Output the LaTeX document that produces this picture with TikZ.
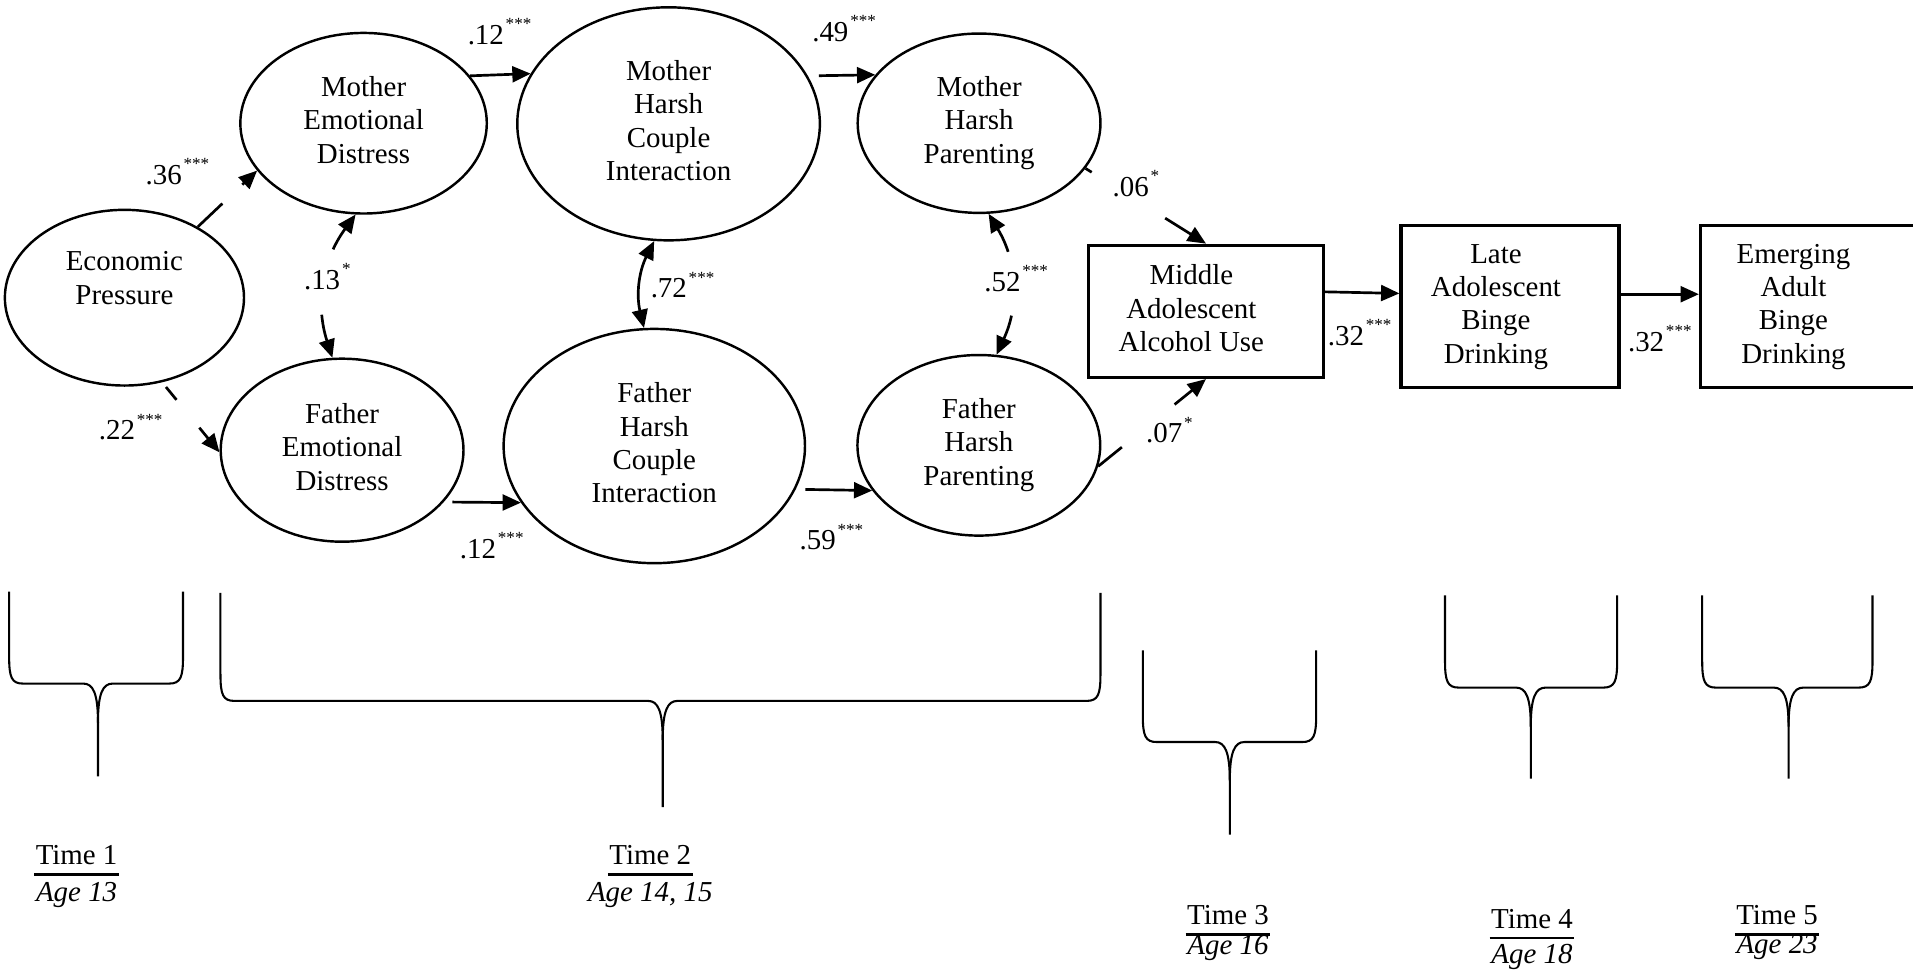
\documentclass[tikz,border=0pt]{standalone}
\usepackage{fontspec}
\setmainfont{Liberation Serif}
\usetikzlibrary{arrows.meta,shapes.geometric,calc}
\newcommand\sig[1]{\hspace{1.5pt}\raisebox{12pt}{\fontsize{14}{14}\selectfont #1}}
\newcommand\stack[1]{\begin{tabular}{@{}c@{}}#1\end{tabular}}
% L R T H C P
\newcommand\timebrace[6]{%
  \draw[bracestyle] (#1,#3) -- (#1,#4-22) .. controls (#1,#4-5) and (#1+2,#4) .. (#1+11.5,#4)
     -- (#5-12,#4) .. controls (#5-4,#4) and (#5,#4+8) .. (#5,#4+32) -- (#5,#6);
  \draw[bracestyle] (#2,#3) -- (#2,#4-22) .. controls (#2,#4-5) and (#2-2,#4) .. (#2-11.5,#4)
     -- (#5+12,#4) .. controls (#5+4,#4) and (#5,#4+8) .. (#5,#4+32);
}
\begin{document}
\begin{tikzpicture}[x=1pt,y=-1pt,
  every node/.style={font=\fontsize{23.7}{27.3}\selectfont, inner sep=0pt},
  ell/.style={ellipse, draw, line width=2pt},
  box/.style={rectangle, draw, line width=2.6pt},
  conn/.style={line width=2.2pt, -{Triangle[length=15pt,width=13pt]}},
  dconn/.style={line width=2.2pt, {Triangle[length=15pt,width=13pt]}-{Triangle[length=15pt,width=13pt]}},
  lab/.style={anchor=base west},
  bracestyle/.style={line width=1.7pt},
  tbar/.style={line width=2.2pt}]

\useasboundingbox (0,0) rectangle (1568,795);

% ---- latent variables
\node[ell, minimum width=196pt, minimum height=144pt] (econ) at (102,244) {};
\node (econtxt) at (102,230.3) {\stack{Economic\\Pressure}};
\node[ell, minimum width=202pt, minimum height=148pt] (med) at (298,101) {\stack{Mother\\Emotional\\Distress}};
\node[ell, minimum width=199pt, minimum height=150pt] (fed) at (280.4,369) {\stack{Father\\Emotional\\Distress}};
\node[ell, minimum width=248pt, minimum height=191pt] (mhci) at (548,101.5) {\stack{Mother\\Harsh\\Couple\\Interaction}};
\node[ell, minimum width=247pt, minimum height=192pt] (fhci) at (536.3,365.6) {\stack{Father\\Harsh\\Couple\\Interaction}};
\node[ell, minimum width=199pt, minimum height=147pt] (mhp) at (802.5,101) {\stack{Mother\\Harsh\\Parenting}};
\node[ell, minimum width=199pt, minimum height=148pt] (fhp) at (802.3,365) {\stack{Father\\Harsh\\Parenting}};

% ---- observed variables
\node[box, minimum width=192pt, minimum height=108.4pt] (mid) at (988.5,255.2) {\stack{Middle\\Adolescent\\Alcohol Use}\hspace*{24pt}};
\node[box, minimum width=178.7pt, minimum height=133.3pt] (late) at (1237.65,251.15) {\stack{Late\\Adolescent\\Binge\\Drinking}\hspace*{23pt}};
\node[box, minimum width=180pt, minimum height=133.3pt] (emerg) at (1483.8,251.15) {\stack{Emerging\\Adult\\Binge\\Drinking}\hspace*{27.6pt}};

% ---- paths
\draw[conn, dash pattern=on 27.8pt off 22.5pt on 300pt] (econ.44.8) -- (med.204.7);
\draw[conn, shorten <=5pt, dash pattern=on 13.6pt off 29.5pt on 300pt] (econ.-66.9) -- (fed.181.5);
\draw[conn] (med.24.2) -- (mhci.160.9);
\draw[conn, shorten <=7pt] (fed.-27.3) -- (fhci.-157.15);
\draw[conn, shorten <=9pt] (mhci.19.1) -- (mhp.155.4);
\draw[conn, shorten <=8pt] (fhci.-17.1) -- (fhp.-157.5);
\draw[dconn, dash pattern=on 22pt off 55pt on 300pt] (fed.96.4) to[bend left=27] (med.-95.8);
\draw[dconn] (fhci.95.1) to[bend left=20] (mhci.-97.4);
\draw[dconn, dash pattern=on 20pt off 53pt on 300pt] (fhp.79.4) to[bend right=28] (mhp.-84.1);
\draw[conn, dash pattern=on 6pt off 71pt on 300pt] (mhp.-23.8) -- (mid.north);
\draw[conn, dash pattern=on 25pt off 55.6pt on 300pt] (fhp.-10) -- (mid.south);
\draw[conn] ([yshift=16pt]mid.east) -- ([yshift=10.65pt]late.west);
\draw[conn] ([yshift=10pt]late.east) -- ([yshift=10pt]emerg.west);

% ---- coefficients
\node[lab] (l36) at (119.2,151.3) {.36\sig{***}};
\node[lab] (l22) at (80.9,360.4) {.22\sig{***}};
\node[lab] (l13) at (249,237.4) {.13\sig{*}};
\node[lab] (l12a) at (383.2,36.5) {.12\sig{***}};
\node[lab] (l12b) at (376.8,457.4) {.12\sig{***}};
\node[lab] (l49) at (665.6,33.8) {.49\sig{***}};
\node[lab] (l59) at (655.2,450.6) {.59\sig{***}};
\node[lab] (l72) at (533.2,244.2) {.72\sig{***}};
\node[lab] (l52) at (806.6,238.8) {.52\sig{***}};
\node[lab] (l06) at (911.8,160.8) {.06\sig{*}};
\node[lab] (l07) at (939.2,363.1) {.07\sig{*}};
\node[lab] (l32a) at (1088.2,282.8) {.32\sig{***}};
\node[lab] (l32b) at (1334.2,287.8) {.32\sig{***}};

% ---- time braces
\timebrace{7.5}{150}{485}{560.3}{80.3}{636.3}
\timebrace{180.7}{902}{486}{574.5}{543.2}{661.5}
\timebrace{936.7}{1078.8}{533}{608.2}{1008}{684.1}
\timebrace{1184.4}{1325.5}{488}{563.6}{1254.7}{638.2}
\timebrace{1395.2}{1534.8}{488}{563.6}{1466}{638.2}

% ---- time labels
\node[anchor=base] (t1) at (62.8,708.8) {Time 1};
\node[anchor=base] (a1) at (62.8,739) {\textit{Age 13}};
\node[anchor=base] (t2) at (533,708.8) {Time 2};
\node[anchor=base] (a2) at (533,739) {\textit{Age 14, 15}};
\node[anchor=base] (t3) at (1006.5,758.1) {Time 3};
\node[anchor=base] (a3) at (1006.5,782.7) {\textit{Age 16}};
\node[anchor=base] (t4) at (1255.7,760.8) {Time 4};
\node[anchor=base] (a4) at (1255.7,789.5) {\textit{Age 18}};
\node[anchor=base] (t5) at (1456.6,758.1) {Time 5};
\node[anchor=base] (a5) at (1456.6,781.8) {\textit{Age 23}};
\foreach \t in {t1,t2,t3,t4,t5}
  \draw[tbar] ([yshift=-8pt,xshift=-1pt]\t.base west) -- ([yshift=-8pt,xshift=1pt]\t.base east);
\end{tikzpicture}
\end{document}
